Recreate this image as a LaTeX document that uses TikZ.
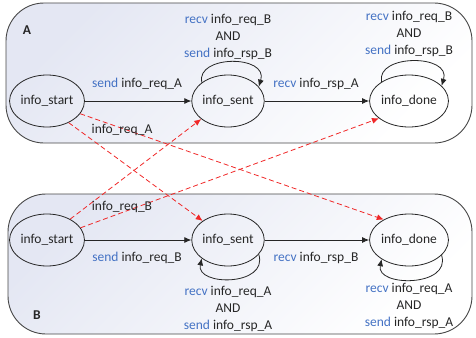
\documentclass[tikz,border=0pt]{standalone}
\usepackage{fontspec}
\setmainfont{Carlito}
\usetikzlibrary{arrows.meta,shapes.geometric}
\definecolor{ink}{HTML}{262626}
\definecolor{kw}{HTML}{4472C4}
\definecolor{msg}{HTML}{F02828}
\definecolor{panel}{HTML}{E4E7F3}
\newcommand\kwd[1]{\textcolor{kw}{#1}}

\begin{document}
\begin{tikzpicture}[x=1pt,y=-1pt,
  font=\fontsize{13.5}{17}\selectfont, text=ink,
  state/.style={draw=ink, ellipse, minimum width=70pt, minimum height=52pt,
    inner sep=0pt, line width=0.8pt},
  panelbox/.style={draw=ink!85, line width=0.9pt, rounded corners=38pt,
    top color=panel, bottom color=white, shading angle=45},
  trans/.style={draw=ink, line width=0.8pt, -{Latex[length=7pt,width=6pt]}},
  xmsg/.style={draw=msg, dash pattern=on 5pt off 3pt, line width=0.8pt,
    -{Latex[length=7pt,width=6pt]}},
  lbl/.style={inner sep=1pt, align=center},
]
\useasboundingbox (0,0) rectangle (476,337);

% the two protocol parties
\path[panelbox] (6,3) rectangle (472,143);
\path[panelbox] (8,194) rectangle (472,334);
\node[font=\fontsize{13.5}{17}\selectfont\bfseries] (labA) at (27,30) {A};
\node[font=\fontsize{13.5}{17}\selectfont\bfseries] (labB) at (37,315) {B};

% states of A
\node[state] (startA) at (47,101) {info\_start};
\node[state] (sentA)  at (228,101) {info\_sent};
\node[state] (doneA)  at (409,101) {info\_done};
% states of B
\node[state] (startB) at (47,240) {info\_start};
\node[state] (sentB)  at (228,240) {info\_sent};
\node[state] (doneB)  at (409,240) {info\_done};

% transitions of A
\draw[trans] (startA) -- (sentA);
\draw[trans] (sentA) -- (doneA);
\draw[trans] (sentA.145) .. controls +(-6,-28) and +(10,-32) .. (sentA.25);
\draw[trans] (doneA.145) .. controls +(-6,-28) and +(10,-32) .. (doneA.25);
\node[lbl] (tA1) at (137,84) {\kwd{send} info\_req\_A};
\node[lbl] (tA2) at (316,84) {\kwd{recv} info\_rsp\_A};
\node[lbl] (lA1) at (228,36.5) {\kwd{recv} info\_req\_B\\AND\\\kwd{send} info\_rsp\_B};
\node[lbl] (lA2) at (409,33.5) {\kwd{recv} info\_req\_B\\AND\\\kwd{send} info\_rsp\_B};

% transitions of B
\draw[trans] (startB) -- (sentB);
\draw[trans] (sentB) -- (doneB);
\draw[trans] (sentB.-25) .. controls +(10,32) and +(-6,28) .. (sentB.-145);
\draw[trans] (doneB.-25) .. controls +(10,32) and +(-6,28) .. (doneB.-145);
\node[lbl] (tB1) at (137,258) {\kwd{send} info\_req\_B};
\node[lbl] (tB2) at (316,258) {\kwd{recv} info\_rsp\_B};
\node[lbl] (lB1) at (228,308.5) {\kwd{recv} info\_req\_A\\AND\\\kwd{send} info\_rsp\_A};
\node[lbl] (lB2) at (409,305.5) {\kwd{recv} info\_req\_A\\AND\\\kwd{send} info\_rsp\_A};

% messages between the parties
\draw[xmsg] (startA.-45) -- (sentB.143);
\draw[xmsg] (startA.-21) -- (doneB.141);
\draw[xmsg] (startB.42) -- (sentA.-146);
\draw[xmsg] (startB.20) -- (doneA.-150);
\node[lbl] (mA) at (122,130) {info\_req\_A};
\node[lbl] (mB) at (122,207) {info\_req\_B};
\end{tikzpicture}
\end{document}
